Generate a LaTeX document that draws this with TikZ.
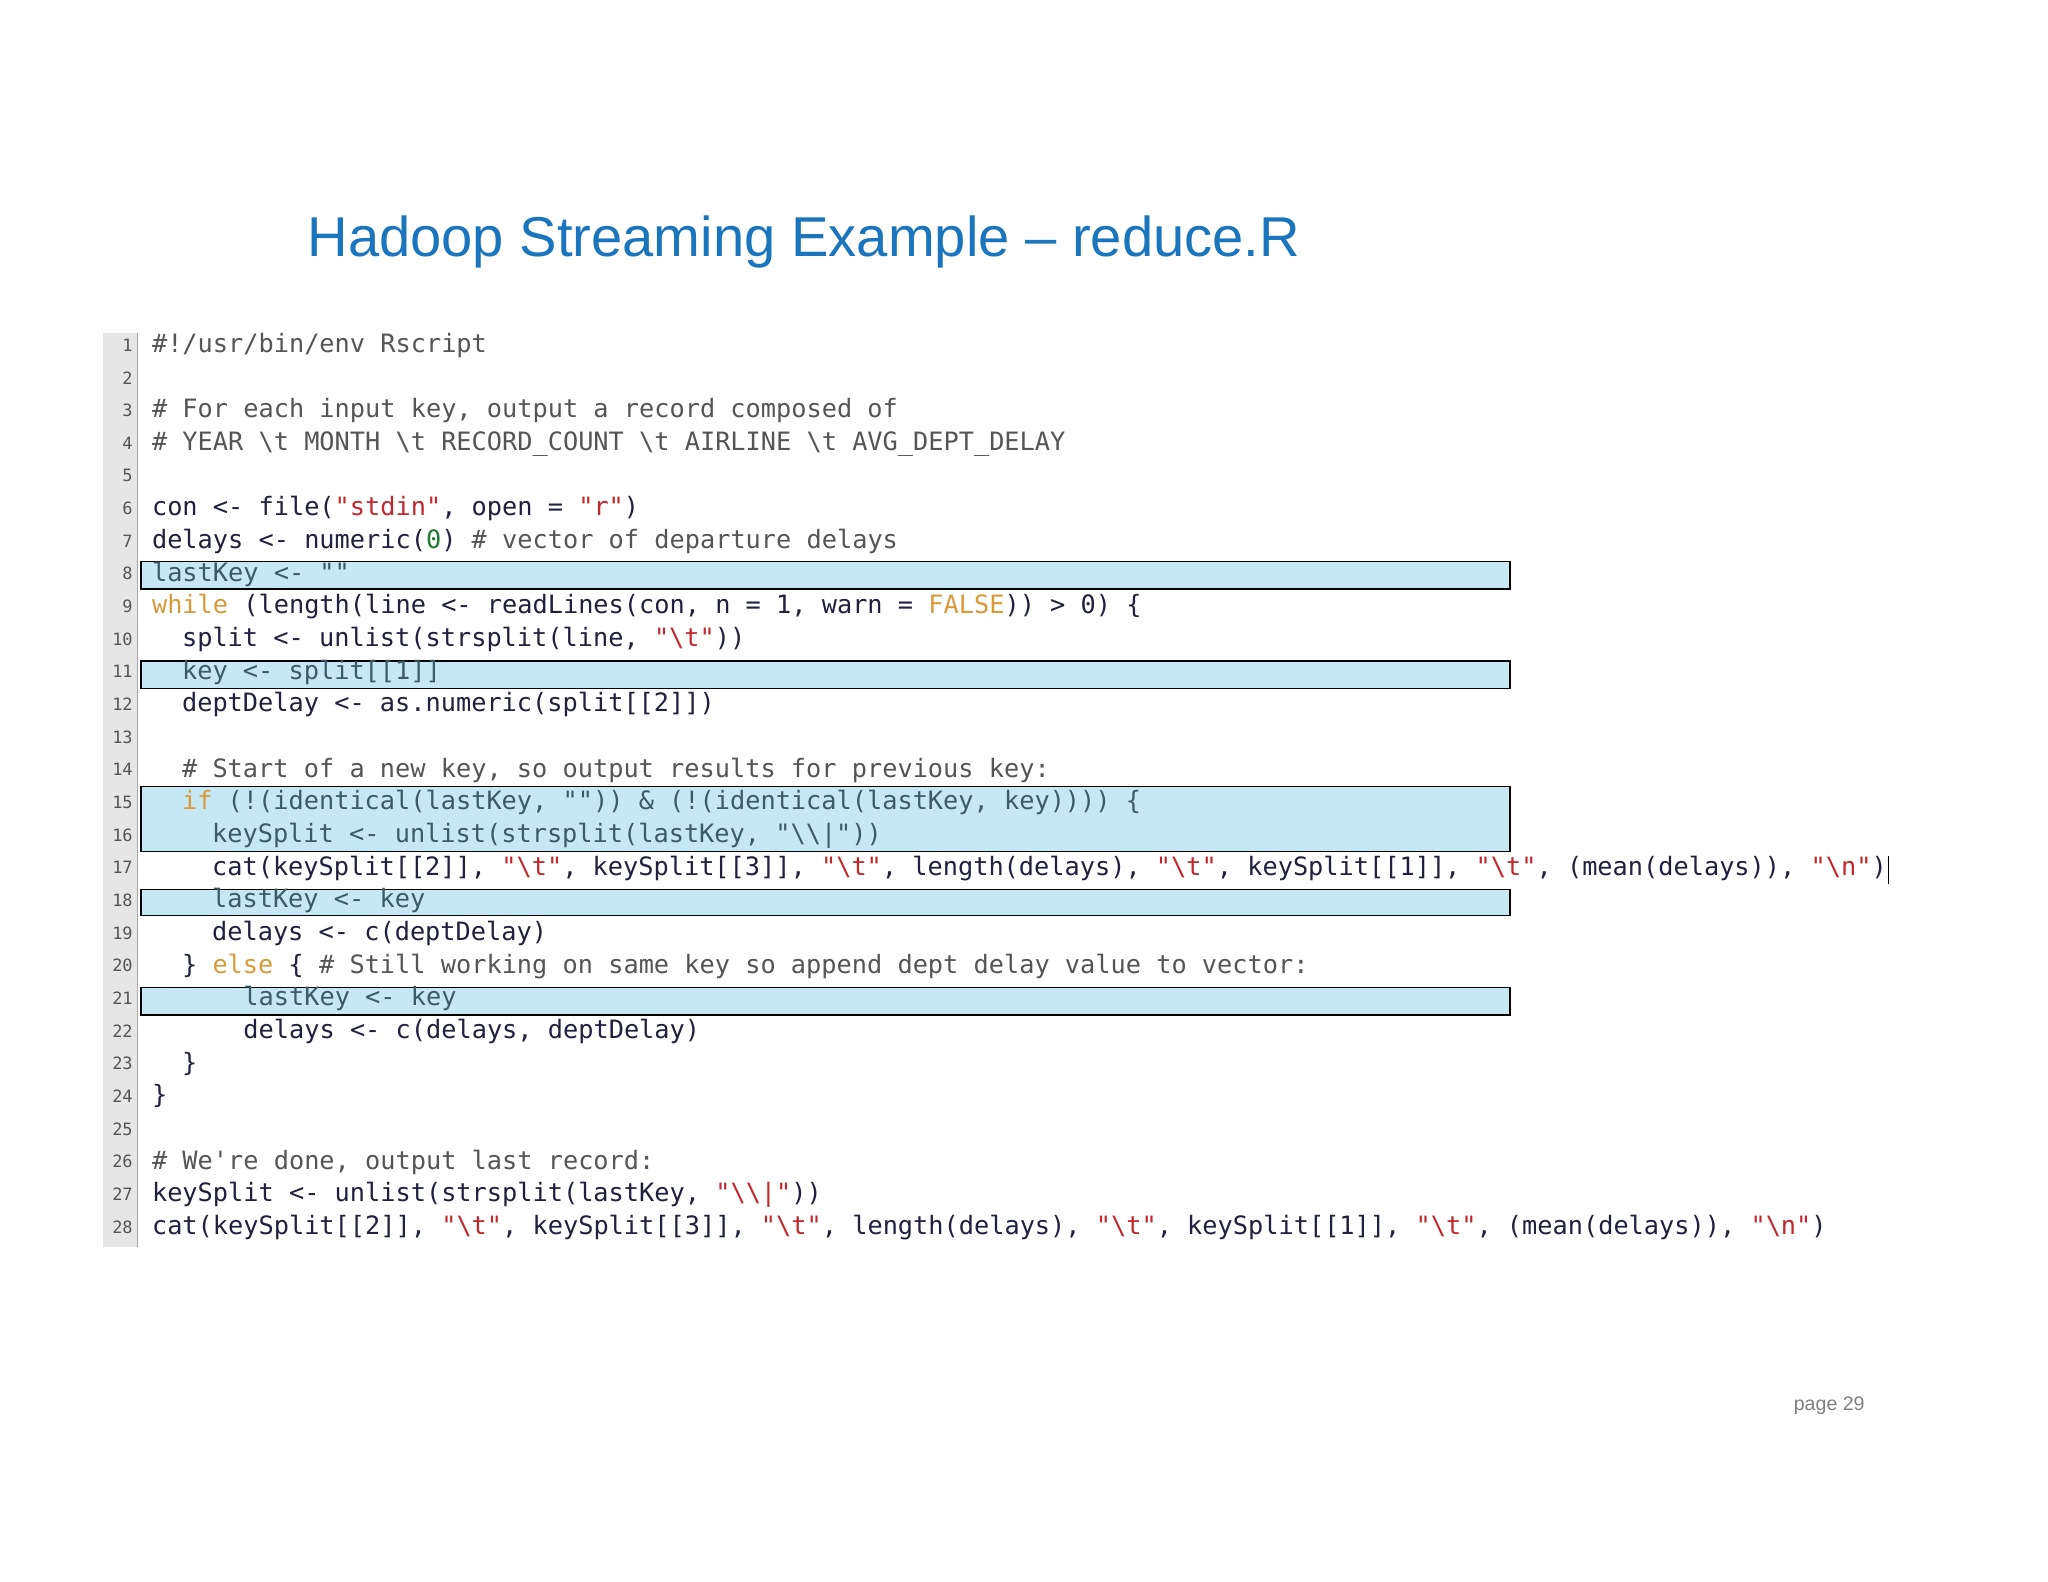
\documentclass[tikz,border=0pt]{standalone}
\usepackage{fontspec}
\setmainfont{Liberation Sans}
\newfontfamily\cf{DejaVu Sans Mono}
\definecolor{titleblue}{HTML}{1A75BC}
\definecolor{codec}{HTML}{20203F}
\definecolor{strc}{HTML}{C0282D}
\definecolor{kwc}{HTML}{D89B3A}
\definecolor{numc}{HTML}{1E7A2E}
\definecolor{comc}{HTML}{555555}
\definecolor{hlfill}{HTML}{C6E8F4}
\definecolor{hltext}{HTML}{3D5A6A}
\definecolor{gutter}{HTML}{E6E6E6}
\newcommand\Sq[1]{\textcolor{strc}{#1}}
\newcommand\Kw[1]{\textcolor{kwc}{#1}}
\newcommand\Cm[1]{\textcolor{comc}{#1}}
\newcommand\bs{\textbackslash}
\tikzset{
  code/.style={anchor=base west,inner sep=0pt,font=\cf\fontsize{9.68}{12}\selectfont,text=codec},
  lnum/.style={anchor=base east,inner sep=0pt,font=\cf\fontsize{6.5}{8}\selectfont,text=comc},
  hlbox/.style={draw=black,fill=hlfill,line width=0.6pt}
}
\newcommand\cl[3]{\node[code] (l#1) at (#2,{270+(#1-1)*25}) {#3};}
\begin{document}
\begin{tikzpicture}[x=0.5pt,y=-0.5pt]
\useasboundingbox[fill=white] (0,0) rectangle (1568,1211);
\node[anchor=base west,inner sep=0pt,font=\fontsize{21.5}{26}\selectfont,text=titleblue] (title) at (235,196) {Hadoop Streaming Example – reduce.R};
\fill[gutter] (79,255) rectangle (105,955);
\draw[gray!70,line width=0.4pt] (105,255) -- (105,955);
\foreach \n in {1,...,28}{\node[lnum] (n\n) at (102,{269+(\n-1)*25}) {\n};}
% highlight boxes
\draw[hlbox] (108,430) rectangle (1156,451);
\draw[hlbox] (108,506) rectangle (1156,527);
\draw[hlbox] (108,602) rectangle (1156,652);
\draw[hlbox] (108,681) rectangle (1156,701);
\draw[hlbox] (108,756) rectangle (1156,777);
\cl{1}{116}{\Cm{\#!/usr/bin/env Rscript}}
\cl{3}{116}{\Cm{\# For each input key, output a record composed of}}
\cl{4}{116}{\Cm{\# YEAR \bs t MONTH \bs t RECORD\_COUNT \bs t AIRLINE \bs t AVG\_DEPT\_DELAY}}
\cl{6}{116}{con <- file(\Sq{"stdin"}, open = \Sq{"r"})}
\cl{7}{116}{delays <- numeric(\textcolor{numc}{0}) \Cm{\# vector of departure delays}}
\cl{8}{116}{\textcolor{hltext}{lastKey <- ""}}
\cl{9}{116}{\Kw{while} (length(line <- readLines(con, n = 1, warn = \Kw{FALSE})) > 0) \{}
\cl{10}{139}{split <- unlist(strsplit(line, \Sq{"\bs t"}))}
\cl{11}{139}{\textcolor{hltext}{key <- split[[1]]}}
\cl{12}{139}{deptDelay <- as.numeric(split[[2]])}
\cl{14}{139}{\Cm{\# Start of a new key, so output results for previous key:}}
\cl{15}{139}{\textcolor{hltext}{\Kw{if} (!(identical(lastKey, "")) \& (!(identical(lastKey, key)))) \{}}
\cl{16}{162}{\textcolor{hltext}{keySplit <- unlist(strsplit(lastKey, "\bs\bs|"))}}
\cl{17}{162}{cat(keySplit[[2]], \Sq{"\bs t"}, keySplit[[3]], \Sq{"\bs t"}, length(delays), \Sq{"\bs t"}, keySplit[[1]], \Sq{"\bs t"}, (mean(delays)), \Sq{"\bs n"})}
\draw[black,line width=0.6pt] (1446,655) -- (1446,677);
\cl{18}{162}{\textcolor{hltext}{lastKey <- key}}
\cl{19}{162}{delays <- c(deptDelay)}
\cl{20}{139}{\} \Kw{else} \{ \Cm{\# Still working on same key so append dept delay value to vector:}}
\cl{21}{186}{\textcolor{hltext}{lastKey <- key}}
\cl{22}{186}{delays <- c(delays, deptDelay)}
\cl{23}{139}{\}}
\cl{24}{116}{\}}
\cl{26}{116}{\Cm{\# We're done, output last record:}}
\cl{27}{116}{keySplit <- unlist(strsplit(lastKey, \Sq{"\bs\bs|"}))}
\cl{28}{116}{cat(keySplit[[2]], \Sq{"\bs t"}, keySplit[[3]], \Sq{"\bs t"}, length(delays), \Sq{"\bs t"}, keySplit[[1]], \Sq{"\bs t"}, (mean(delays)), \Sq{"\bs n"})}
\node[anchor=base west,inner sep=0pt,font=\fontsize{7.5}{9}\selectfont,text=gray] (page) at (1373,1080) {page 29};
\end{tikzpicture}
\end{document}
